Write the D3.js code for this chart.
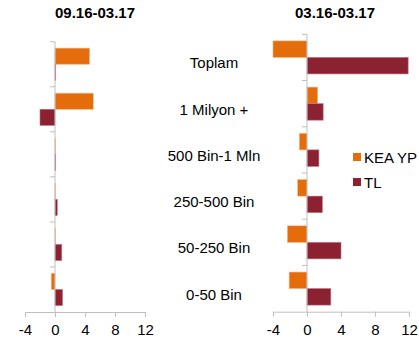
<!DOCTYPE html>
<html>
<head>
<meta charset="utf-8">
<script src="https://cdn.jsdelivr.net/npm/d3@7"></script>
<style>
  body { margin: 0; background: #fff; }
  text { font-family: "Liberation Sans", Arial, sans-serif; }
</style>
</head>
<body>
<div id="chart"></div>
<script>
// kategoriler ve seriler
var categories = ["Toplam", "1 Milyon +", "500 Bin-1 Mln", "250-500 Bin", "50-250 Bin", "0-50 Bin"];
var seriesNames = ["KEA YP", "TL"];
var leftKEA = [4.6, 5.1, 0.05, 0.05, 0.05, -0.5];
var leftTL = [0.1, -2.0, 0.1, 0.3, 0.9, 1.0];
var rightKEA = [-4.0, 1.25, -0.9, -1.1, -2.3, -2.1];
var rightTL = [11.9, 1.9, 1.4, 1.8, 4.0, 2.8];
var xTicks = [-4, 0, 4, 8, 12];
var titles = ["09.16-03.17", "03.16-03.17"];

var colors = {"KEA YP": "#E46C0A", "TL": "#8B2131"};
var strokes = {"KEA YP": "#F4B183", "TL": "#C0707C"};
var axisColor = "#BFBFBF";

var width = 419, height = 342;

var svg = d3.select("#chart").append("svg")
  .attr("width", width)
  .attr("height", height);

function drawPanel(opt) {
  var x = d3.scaleLinear().domain([-4, 12]).range([opt.x0, opt.x1]);
  var y = d3.scaleBand().domain(categories).range([opt.y0, opt.y1]).padding(0);
  var ySub = d3.scaleBand().domain(seriesNames).range([0, y.bandwidth()])
    .paddingInner(0).paddingOuter(0.4);

  var g = svg.append("g");

  // başlık
  g.append("text")
    .attr("x", opt.titleX)
    .attr("y", 18)
    .attr("text-anchor", "middle")
    .style("font-size", "15px")
    .style("font-weight", "bold")
    .attr("fill", "#000")
    .text(opt.title);

  var rows = categories.map(function(c, i) {
    return {cat: c, vals: [{s: "KEA YP", v: opt.kea[i]}, {s: "TL", v: opt.tl[i]}]};
  });

  // çubuklar
  var grp = g.selectAll(".grp").data(rows).enter().append("g")
    .attr("transform", function(d) { return "translate(0," + y(d.cat) + ")"; });
  grp.selectAll("rect").data(function(d) { return d.vals; }).enter().append("rect")
    .attr("x", function(d) { return x(Math.min(0, d.v)); })
    .attr("y", function(d) { return ySub(d.s); })
    .attr("width", function(d) { return Math.abs(x(d.v) - x(0)); })
    .attr("height", ySub.bandwidth())
    .attr("fill", function(d) { return colors[d.s]; })
    .attr("stroke", function(d) { return strokes[d.s]; })
    .attr("stroke-width", 0.6);

  // x ekseni
  var xAxis = g.append("g")
    .attr("transform", "translate(0," + opt.y1 + ")")
    .call(d3.axisBottom(x).tickValues(xTicks).tickSize(5).tickSizeOuter(0).tickFormat(d3.format("d")));
  xAxis.select(".domain").attr("stroke", axisColor);
  xAxis.selectAll(".tick line").attr("stroke", axisColor);
  xAxis.selectAll(".tick text")
    .attr("fill", "#000")
    .attr("dy", "1.0em")
    .style("font-size", "15px")
    .style("font-family", "'Liberation Sans', Arial, sans-serif")
    .text(function(d) { return d < 0 ? "-" + Math.abs(d) : d; });

  // dikey eksen (sıfır çizgisi)
  g.append("line")
    .attr("x1", x(0)).attr("x2", x(0))
    .attr("y1", opt.y0).attr("y2", opt.y1)
    .attr("stroke", axisColor);
  g.selectAll(".ctick").data(categories).enter().append("line")
    .attr("x1", x(0) - 5).attr("x2", x(0))
    .attr("y1", function(d) { return y(d); })
    .attr("y2", function(d) { return y(d); })
    .attr("stroke", axisColor);

  if (opt.labels) {
    g.selectAll(".clabel").data(categories).enter().append("text")
      .attr("x", opt.labelX)
      .attr("y", function(d) { return y(d) + y.bandwidth() / 2 + 11; })
      .attr("text-anchor", "middle")
      .style("font-size", "15px")
      .attr("fill", "#000")
      .text(function(d) { return d; });
  }
  return g;
}

drawPanel({x0: 25, x1: 145, y0: 41.7, y1: 312, title: titles[0], titleX: 95,
  kea: leftKEA, tl: leftTL, labels: false});
drawPanel({x0: 273, x1: 409, y0: 34.3, y1: 311.7, title: titles[1], titleX: 335,
  kea: rightKEA, tl: rightTL, labels: true, labelX: 214});

// lejant
var legend = svg.append("g").attr("transform", "translate(353,153)");
var li = legend.selectAll("g").data(seriesNames).enter().append("g")
  .attr("transform", function(d, i) { return "translate(0," + i * 25 + ")"; });
li.append("rect").attr("width", 8).attr("height", 8)
  .attr("fill", function(d) { return colors[d]; });
li.append("text").attr("x", 11).attr("y", 9.5)
  .style("font-size", "15px")
  .attr("fill", "#000")
  .text(function(d) { return d; });
</script>
</body>
</html>
